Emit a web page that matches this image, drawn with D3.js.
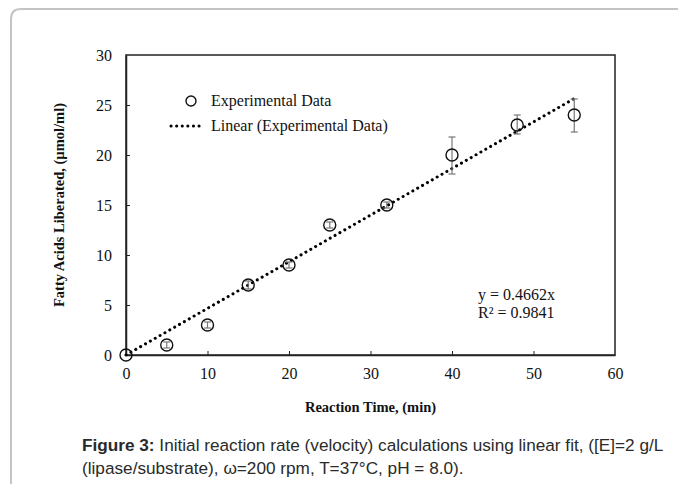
<!DOCTYPE html>
<html>
<head>
<meta charset="utf-8">
<script src="https://cdn.jsdelivr.net/npm/d3@7"></script>
<style>
  body { margin: 0; background: #fff; }
  svg { display: block; }
</style>
</head>
<body>
<div id="chart"></div>
<script>
// reaction time (min) and fatty acids liberated (umol/ml)
const times = [0, 5, 10, 15, 20, 25, 32, 40, 48, 55];
const acids = [0, 1, 3, 7, 9, 13, 15, 20, 23, 24];
const errLow = [0, 0.3, 0.3, 0.4, 0.3, 0.3, 0.3, 1.9, 0.9, 1.7];
const errHigh = [0, 0.3, 0.3, 0.4, 0.3, 0.3, 0.3, 1.8, 1.0, 1.6];
const slope = 0.4662;
const xTicks = [0, 10, 20, 30, 40, 50, 60];
const yTicks = [0, 5, 10, 15, 20, 25, 30];

const data = times.map((t, i) => ({t: t, v: acids[i], lo: errLow[i], hi: errHigh[i]}));

const W = 678, H = 484;
const margin = {top: 55, right: 63, bottom: 129, left: 126};
const width = W - margin.left - margin.right;
const height = H - margin.top - margin.bottom;

const svg = d3.select("#chart").append("svg")
  .attr("width", W)
  .attr("height", H);

// outer frame (rounded top-left corner)
svg.append("path")
  .attr("d", "M11,484 L11,19 Q11,9 21,9 L678,9")
  .attr("fill", "none")
  .attr("stroke", "#c4c4c4")
  .attr("stroke-width", 2);

const g = svg.append("g")
  .attr("transform", "translate(" + margin.left + "," + margin.top + ")");

const x = d3.scaleLinear().domain([0, 60]).range([0, width]);
const y = d3.scaleLinear().domain([0, 30]).range([height, 0]);

const serif = "'Liberation Serif', 'Times New Roman', serif";

// plot border
g.append("rect")
  .attr("width", width)
  .attr("height", height)
  .attr("fill", "none")
  .attr("stroke", "#222")
  .attr("stroke-width", 1.5);

// axes with ticks pointing inward
const xAxis = g.append("g")
  .attr("transform", "translate(0," + height + ")")
  .call(d3.axisBottom(x).tickValues(xTicks).tickSizeInner(-4).tickSizeOuter(0).tickPadding(13));
const yAxis = g.append("g")
  .call(d3.axisLeft(y).tickValues(yTicks).tickSizeInner(-4).tickSizeOuter(0).tickPadding(14));

[xAxis, yAxis].forEach(a => {
  a.select(".domain").attr("stroke", "#222").attr("stroke-width", 1.5);
  a.selectAll(".tick line").attr("stroke", "#222");
  a.selectAll(".tick text")
    .attr("font-family", serif)
    .attr("font-size", 16)
    .attr("fill", "#111");
});
// hide the 0/60 tick marks drawn over the border corners
xAxis.selectAll(".tick").filter(d => d === 0 || d === 60).select("line").remove();
yAxis.selectAll(".tick").filter(d => d === 0 || d === 30).select("line").remove();

// axis titles
g.append("text")
  .attr("x", width / 2)
  .attr("y", height + 57)
  .attr("text-anchor", "middle")
  .attr("font-family", serif)
  .attr("font-weight", "bold")
  .attr("font-size", 14.5)
  .attr("fill", "#111")
  .text("Reaction Time, (min)");

g.append("text")
  .attr("transform", "translate(-62," + (height / 2) + ") rotate(-90)")
  .attr("text-anchor", "middle")
  .attr("font-family", serif)
  .attr("font-weight", "bold")
  .attr("font-size", 14.5)
  .attr("fill", "#111")
  .text("Fatty Acids Liberated, (µmol/ml)");

// linear trend line y = 0.4662x
const tEnd = d3.max(times);
g.append("line")
  .attr("x1", x(0))
  .attr("y1", y(0))
  .attr("x2", x(tEnd))
  .attr("y2", y(slope * tEnd))
  .attr("stroke", "#000")
  .attr("stroke-width", 3)
  .attr("stroke-linecap", "round")
  .attr("stroke-dasharray", "0.1,5.5");

// error bars
const eb = g.selectAll(".err")
  .data(data.filter(d => d.lo > 0 || d.hi > 0))
  .enter().append("g")
  .attr("class", "err")
  .attr("stroke", "#777")
  .attr("stroke-width", 1.2);
eb.append("line")
  .attr("x1", d => x(d.t)).attr("x2", d => x(d.t))
  .attr("y1", d => y(d.v - d.lo)).attr("y2", d => y(d.v + d.hi));
eb.append("line")
  .attr("x1", d => x(d.t) - 3.5).attr("x2", d => x(d.t) + 3.5)
  .attr("y1", d => y(d.v - d.lo)).attr("y2", d => y(d.v - d.lo));
eb.append("line")
  .attr("x1", d => x(d.t) - 3.5).attr("x2", d => x(d.t) + 3.5)
  .attr("y1", d => y(d.v + d.hi)).attr("y2", d => y(d.v + d.hi));

// data markers
g.selectAll(".pt")
  .data(data)
  .enter().append("circle")
  .attr("class", "pt")
  .attr("cx", d => x(d.t))
  .attr("cy", d => y(d.v))
  .attr("r", 6)
  .attr("fill", "none")
  .attr("stroke", "#111")
  .attr("stroke-width", 1.4);

// legend
const legend = svg.append("g").attr("font-family", serif).attr("font-size", 16).attr("fill", "#111");
legend.append("circle")
  .attr("cx", 191).attr("cy", 101).attr("r", 5)
  .attr("fill", "none").attr("stroke", "#111").attr("stroke-width", 1.4);
legend.append("text").attr("x", 211).attr("y", 106).text("Experimental Data");
legend.append("line")
  .attr("x1", 171).attr("x2", 203).attr("y1", 126).attr("y2", 126)
  .attr("stroke", "#000").attr("stroke-width", 3)
  .attr("stroke-linecap", "round").attr("stroke-dasharray", "0.1,5.5");
legend.append("text").attr("x", 211).attr("y", 131).text("Linear (Experimental Data)");

// trend equation
const eq = svg.append("g").attr("font-family", serif).attr("font-size", 16).attr("fill", "#111");
eq.append("text").attr("x", 478).attr("y", 300).text("y = " + slope + "x");
eq.append("text").attr("x", 478).attr("y", 318).text("R² = 0.9841");

// caption
const cap = svg.append("text")
  .attr("font-family", "'Liberation Sans', Arial, sans-serif")
  .attr("font-size", 17.2)
  .attr("fill", "#2a2a2a");
const line1 = cap.append("tspan").attr("x", 82).attr("y", 451);
line1.append("tspan").attr("font-weight", "bold").text("Figure 3:");
line1.append("tspan").text(" Initial reaction rate (velocity) calculations using linear fit, ([E]=2 g/L");
cap.append("tspan").attr("x", 82).attr("y", 474)
  .text("(lipase/substrate), ω=200 rpm, T=37°C, pH = 8.0).");
</script>
</body>
</html>
